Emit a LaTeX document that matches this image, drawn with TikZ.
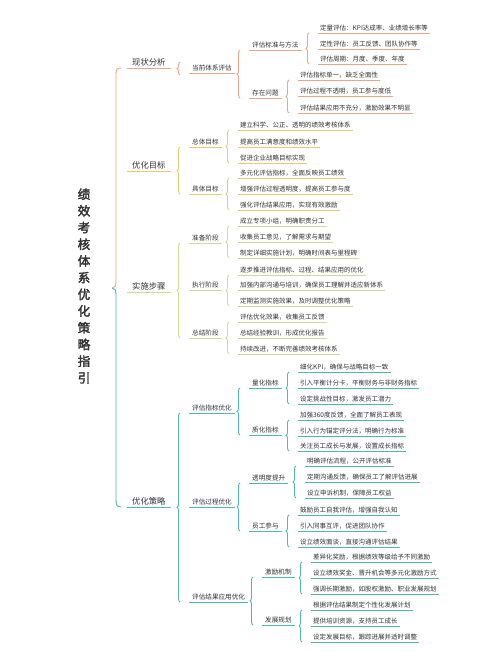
\documentclass[tikz,border=0pt]{standalone}
\usepackage{fontspec}
\setmainfont{Noto Sans CJK SC}[AutoFakeBold=2.5]
\usetikzlibrary{decorations.pathreplacing}
\definecolor{xzc}{HTML}{EBA58A}
\definecolor{mbc}{HTML}{EBCB70}
\definecolor{ssc}{HTML}{CFDD8E}
\definecolor{clc}{HTML}{4FB8B2}
\definecolor{txt}{HTML}{333333}

\begin{document}
\begin{tikzpicture}[x=1pt,y=-1pt,
  uline/.style={append after command={\pgfextra{\let\ulnode\tikzlastnode}
    (\ulnode.south west) edge[draw=#1,line width=0.9pt] (\ulnode.south east)}},
  topic/.style={anchor=south west,inner xsep=5pt,inner ysep=2pt,text=txt,
    font=\fontsize{8.3}{9}\selectfont,uline=#1},
  sub/.style={anchor=south west,inner xsep=3pt,inner ysep=1.5pt,text=txt,
    font=\fontsize{6.6}{7.5}\selectfont,uline=#1},
  leaf/.style={anchor=south west,inner xsep=2pt,inner ysep=1.5pt,text=txt,
    font=\fontsize{6.5}{7.5}\selectfont,uline=#1},
  brc/.style={decorate,decoration={brace,amplitude=3pt},line width=0.9pt}]
\fill[white] (0,0) rectangle (500,652);
\useasboundingbox (0,0) rectangle (500,652);

\node[font=\fontsize{12.5}{16.7}\selectfont\bfseries,align=center,text=txt,inner sep=0pt]
  (title) at (84,286) {绩\\效\\考\\核\\体\\系\\优\\化\\策\\略\\指\\引};

% main branches
\node[topic=xzc] (xz) at (127,68) {现状分析};
\node[topic=mbc] (mb) at (127,171) {优化目标};
\node[topic=ssc] (ss) at (127,292) {实施步骤};
\node[topic=clc] (cl) at (127,507) {优化策略};

\draw[xzc,line width=0.9pt] ([xshift=-6pt]xz.south west) .. controls (116,68) and (116,70) .. (116,75)
  -- (116,281) .. controls (116,286) and (115,288) .. (112,288);
\draw[clc,line width=0.9pt] (112,288) .. controls (115,288) and (116,290) .. (116,295)
  -- (116,500) .. controls (116,505) and (117,507) .. ([xshift=-6pt]cl.south west);

% 现状分析
\node[sub=xzc] (xz1) at (189,73) {当前体系评估};
\draw[brc,xzc] ([shift={(-9pt,-2pt)}]xz1.south west) -- ([shift={(-9pt,11pt)}]xz1.south west);
\node[sub=xzc] (xz11) at (249,50) {评估标准与方法};
\node[sub=xzc] (xz12) at (249,98) {存在问题};
\draw[brc,xzc] ([xshift=-9pt]xz12.south west) -- ([xshift=-9pt]xz11.south west);
\node[leaf=xzc] (xz11a) at (318,33) {定量评估：KPI达成率、业绩增长率等};
\node[leaf=xzc] (xz11b) at (318,49) {定性评估：员工反馈、团队协作等};
\node[leaf=xzc] (xz11c) at (318,64) {评估周期：月度、季度、年度};
\draw[brc,xzc] ([xshift=-9pt]xz11c.south west) -- ([xshift=-9pt]xz11a.south west);
\node[leaf=xzc] (xz12a) at (298,80) {评估指标单一，缺乏全面性};
\node[leaf=xzc] (xz12b) at (298,96) {评估过程不透明，员工参与度低};
\node[leaf=xzc] (xz12c) at (298,113) {评估结果应用不充分，激励效果不明显};
\draw[brc,xzc] ([xshift=-9pt]xz12c.south west) -- ([xshift=-9pt]xz12a.south west);

% 优化目标
\node[sub=mbc] (mb1) at (189,147) {总体目标};
\node[sub=mbc] (mb2) at (189,194) {具体目标};
\draw[brc,mbc] ([xshift=-9pt]mb2.south west) -- ([xshift=-9pt]mb1.south west);
\node[leaf=mbc] (mb1a) at (238,130) {建立科学、公正、透明的绩效考核体系};
\node[leaf=mbc] (mb1b) at (238,147) {提高员工满意度和绩效水平};
\node[leaf=mbc] (mb1c) at (238,163) {促进企业战略目标实现};
\draw[brc,mbc] ([xshift=-9pt]mb1c.south west) -- ([xshift=-9pt]mb1a.south west);
\node[leaf=mbc] (mb2a) at (238,178) {多元化评估指标，全面反映员工绩效};
\node[leaf=mbc] (mb2b) at (238,194) {增强评估过程透明度，提高员工参与度};
\node[leaf=mbc] (mb2c) at (238,210) {强化评估结果应用，实现有效激励};
\draw[brc,mbc] ([xshift=-9pt]mb2c.south west) -- ([xshift=-9pt]mb2a.south west);

% 实施步骤
\node[sub=ssc] (ss1) at (189,243) {准备阶段};
\node[sub=ssc] (ss2) at (189,290) {执行阶段};
\node[sub=ssc] (ss3) at (189,338) {总结阶段};
\draw[brc,ssc] ([xshift=-9pt]ss3.south west) -- ([xshift=-9pt]ss1.south west);
\node[leaf=ssc] (ss1a) at (238,226) {成立专项小组，明确职责分工};
\node[leaf=ssc] (ss1b) at (238,242) {收集员工意见，了解需求与期望};
\node[leaf=ssc] (ss1c) at (238,258) {制定详细实施计划，明确时间表与里程碑};
\draw[brc,ssc] ([xshift=-9pt]ss1c.south west) -- ([xshift=-9pt]ss1a.south west);
\node[leaf=ssc] (ss2a) at (238,275) {逐步推进评估指标、过程、结果应用的优化};
\node[leaf=ssc] (ss2b) at (238,290) {加强内部沟通与培训，确保员工理解并适应新体系};
\node[leaf=ssc] (ss2c) at (238,306) {定期监测实施效果，及时调整优化策略};
\draw[brc,ssc] ([xshift=-9pt]ss2c.south west) -- ([xshift=-9pt]ss2a.south west);
\node[leaf=ssc] (ss3a) at (238,322) {评估优化效果，收集员工反馈};
\node[leaf=ssc] (ss3b) at (238,338) {总结经验教训，形成优化报告};
\node[leaf=ssc] (ss3c) at (238,354) {持续改进，不断完善绩效考核体系};
\draw[brc,ssc] ([xshift=-9pt]ss3c.south west) -- ([xshift=-9pt]ss3a.south west);

% 优化策略
\node[sub=clc] (cl1) at (189,413) {评估指标优化};
\node[sub=clc] (cl2) at (189,507) {评估过程优化};
\node[sub=clc] (cl3) at (189,602) {评估结果应用优化};
\draw[brc,clc] ([xshift=-9pt]cl3.south west) -- ([xshift=-9pt]cl1.south west);

\node[sub=clc] (cl11) at (249,388) {量化指标};
\node[sub=clc] (cl12) at (249,435) {质化指标};
\draw[brc,clc] ([xshift=-9pt]cl12.south west) -- ([xshift=-9pt]cl11.south west);
\node[leaf=clc] (cl11a) at (298,372) {细化KPI，确保与战略目标一致};
\node[leaf=clc] (cl11b) at (298,388) {引入平衡计分卡，平衡财务与非财务指标};
\node[leaf=clc] (cl11c) at (298,404) {设定挑战性目标，激发员工潜力};
\draw[brc,clc] ([xshift=-9pt]cl11c.south west) -- ([xshift=-9pt]cl11a.south west);
\node[leaf=clc] (cl12a) at (298,420) {加强360度反馈，全面了解员工表现};
\node[leaf=clc] (cl12b) at (298,436) {引入行为锚定评分法，明确行为标准};
\node[leaf=clc] (cl12c) at (298,451) {关注员工成长与发展，设置成长指标};
\draw[brc,clc] ([xshift=-9pt]cl12c.south west) -- ([xshift=-9pt]cl12a.south west);

\node[sub=clc] (cl21) at (249,483) {透明度提升};
\node[sub=clc] (cl22) at (249,531) {员工参与};
\draw[brc,clc] ([xshift=-9pt]cl22.south west) -- ([xshift=-9pt]cl21.south west);
\node[leaf=clc] (cl21a) at (305,466) {明确评估流程，公开评估标准};
\node[leaf=clc] (cl21b) at (305,482) {定期沟通反馈，确保员工了解评估进展};
\node[leaf=clc] (cl21c) at (305,498) {设立申诉机制，保障员工权益};
\draw[brc,clc] ([xshift=-9pt]cl21c.south west) -- ([xshift=-9pt]cl21a.south west);
\node[leaf=clc] (cl22a) at (298,515) {鼓励员工自我评估，增强自我认知};
\node[leaf=clc] (cl22b) at (298,531) {引入同事互评，促进团队协作};
\node[leaf=clc] (cl22c) at (298,547) {设立绩效面谈，直接沟通评估结果};
\draw[brc,clc] ([xshift=-9pt]cl22c.south west) -- ([xshift=-9pt]cl22a.south west);

\node[sub=clc] (cl31) at (262,577) {激励机制};
\node[sub=clc] (cl32) at (262,625) {发展规划};
\draw[brc,clc] ([xshift=-9pt]cl32.south west) -- ([xshift=-9pt]cl31.south west);
\node[leaf=clc] (cl31a) at (311,562) {差异化奖励，根据绩效等级给予不同激励};
\node[leaf=clc] (cl31b) at (311,578) {设立绩效奖金、晋升机会等多元化激励方式};
\node[leaf=clc] (cl31c) at (311,594) {强调长期激励，如股权激励、职业发展规划};
\draw[brc,clc] ([xshift=-9pt]cl31c.south west) -- ([xshift=-9pt]cl31a.south west);
\node[leaf=clc] (cl32a) at (311,610) {根据评估结果制定个性化发展计划};
\node[leaf=clc] (cl32b) at (311,626) {提供培训资源，支持员工成长};
\node[leaf=clc] (cl32c) at (311,642) {设定发展目标，跟踪进展并适时调整};
\draw[brc,clc] ([xshift=-9pt]cl32c.south west) -- ([xshift=-9pt]cl32a.south west);
\end{tikzpicture}
\end{document}
